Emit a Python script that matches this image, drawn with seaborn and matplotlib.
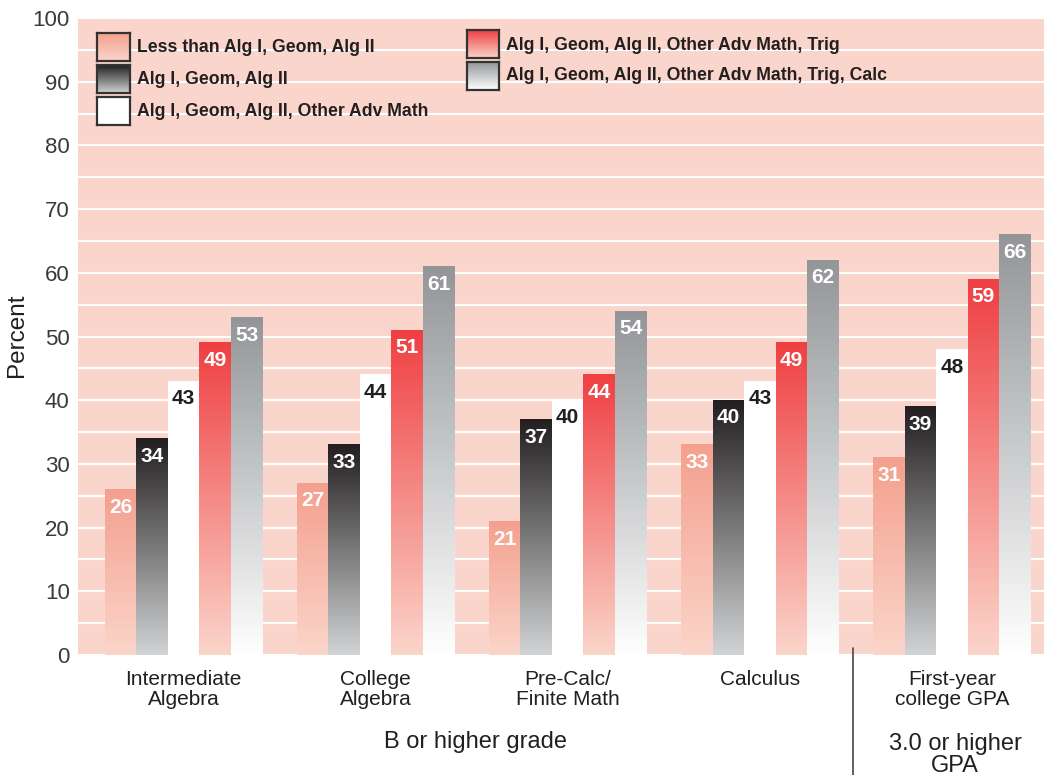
import numpy as np
import pandas as pd
import seaborn as sns
import matplotlib.pyplot as plt
from matplotlib.colors import LinearSegmentedColormap

# course-taking patterns vs. percent reaching success criteria
courses = ["Intermediate\nAlgebra", "College\nAlgebra", "Pre-Calc/\nFinite Math",
           "Calculus", "First-year\ncollege GPA"]
series = ["Less than Alg I, Geom, Alg II",
          "Alg I, Geom, Alg II",
          "Alg I, Geom, Alg II, Other Adv Math",
          "Alg I, Geom, Alg II, Other Adv Math, Trig",
          "Alg I, Geom, Alg II, Other Adv Math, Trig, Calc"]
less_than = [26, 27, 21, 33, 31]
alg_geom = [34, 33, 37, 40, 39]
other_adv = [43, 44, 40, 43, 48]
trig = [49, 51, 44, 49, 59]
calc = [53, 61, 54, 62, 66]

values = [less_than, alg_geom, other_adv, trig, calc]
df = pd.DataFrame({
    "course": np.tile(courses, len(series)),
    "series": np.repeat(series, len(courses)),
    "pct": np.concatenate(values),
})

bg = "#FAD5CB"
# (top, bottom) gradient colours per series
grads = [("#F4A08E", "#FBD5CA"),
         ("#231F20", "#D1D3D4"),
         ("#FFFFFF", "#FFFFFF"),
         ("#EF3F42", "#FBD5CA"),
         ("#939598", "#FFFFFF")]
label_cols = ["white", "white", "#231F20", "white", "white"]

sns.set_style("white")
plt.rcParams["font.family"] = ["Liberation Sans", "DejaVu Sans"]

fig = plt.figure(figsize=(10.44, 7.75), dpi=100)
ax = fig.add_axes([78 / 1044, 1 - 655 / 775, 1 - 78 / 1044, (655 - 18) / 775])
ax.set_facecolor(bg)

sns.barplot(data=df, x="course", y="pct", hue="series", hue_order=series,
            order=courses, width=0.82, legend=False, ax=ax, zorder=2)

grad = np.linspace(1, 0, 256).reshape(-1, 1)
n = len(courses)
for i, p in enumerate(ax.patches[:n * len(series)]):
    s = i // n
    x0, w, h = p.get_x(), p.get_width(), p.get_height()
    cmap = LinearSegmentedColormap.from_list("g", [grads[s][1], grads[s][0]])
    ax.imshow(grad, cmap=cmap, extent=[x0, x0 + w, 0, h], aspect="auto",
              vmin=0, vmax=1, zorder=2, interpolation="bilinear")
    p.set_visible(False)
    ax.text(x0 + w / 2, h - 1.3, f"{h:.0f}", ha="center", va="top",
            fontsize=15, fontweight="bold", color=label_cols[s], zorder=3)

ax.set_xlim(-0.55, 4.48)
ax.set_ylim(0, 100)
ax.set_yticks(range(0, 101, 10))
ax.set_yticks(range(5, 100, 10), minor=True)
ax.grid(axis="y", which="both", color="white", linewidth=1.5, zorder=0)
ax.set_axisbelow(True)
for sp in ax.spines.values():
    sp.set_visible(False)
ax.tick_params(axis="y", length=0, labelsize=16, labelcolor="#3A3A3A", pad=6)
ax.tick_params(axis="x", length=0, labelsize=15, labelcolor="#231F20", pad=11)
for t in ax.get_xticklabels():
    t.set_linespacing(1.02)
ax.set_xlabel("")
ax.set_ylabel("")
fig.text(17 / 1044, 1 - 335 / 775, "Percent", rotation=90, ha="center",
         va="center", fontsize=17.5, color="#231F20")

# divider between grade outcomes and GPA outcome
fig.add_artist(plt.Line2D([853 / 1044, 853 / 1044], [1 - 648 / 775, 0],
                          color="#555555", linewidth=1.3))
fig.text(476 / 1044, 1 - 742 / 775, "B or higher grade", ha="center",
         va="center", fontsize=17, color="#231F20")
fig.text(955 / 1044, 1 - 755 / 775, "3.0 or higher\nGPA", ha="center",
         va="center", fontsize=17, color="#231F20", linespacing=0.97)

# legend with gradient swatches
boxes = [(97, 33, 130, 61, 137, 47), (97, 65, 130, 93, 137, 79),
         (97, 97, 130, 125, 137, 111), (467, 30, 499, 58, 506, 45),
         (467, 62, 499, 90, 506, 76)]
for s, (x0, y0, x1, y1, tx, ty) in enumerate(boxes):
    sw = fig.add_axes([x0 / 1044, 1 - y1 / 775, (x1 - x0) / 1044, (y1 - y0) / 775])
    cmap = LinearSegmentedColormap.from_list("g", [grads[s][1], grads[s][0]])
    sw.imshow(grad, cmap=cmap, aspect="auto", vmin=0, vmax=1,
              interpolation="bilinear")
    sw.set_xticks([])
    sw.set_yticks([])
    for sp in sw.spines.values():
        sp.set_color("#333333")
        sp.set_linewidth(1.6)
    fig.text(tx / 1044, 1 - ty / 775, series[s], ha="left", va="center",
             fontsize=12.7, fontweight="bold", color="#231F20")

fig.savefig("out.png", dpi=100, facecolor="white")
